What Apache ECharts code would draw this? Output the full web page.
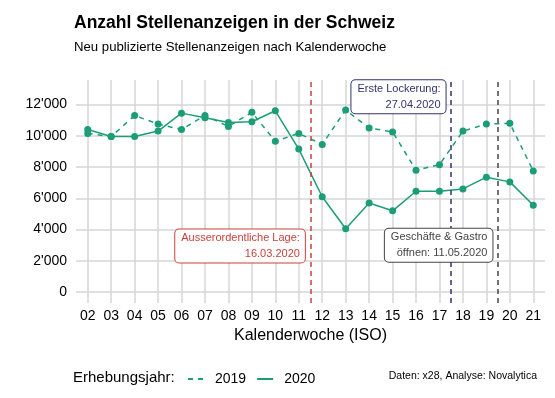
<!DOCTYPE html>
<html>
<head>
<meta charset="utf-8">
<script src="https://cdn.jsdelivr.net/npm/echarts@6/dist/echarts.min.js"></script>
<style>
  html, body { margin: 0; padding: 0; background: #fff; }
  #chart { width: 555px; height: 398px; }
</style>
</head>
<body>
<div id="chart"></div>
<script>
var weeks = ['02','03','04','05','06','07','08','09','10','11','12','13','14','15','16','17','18','19','20','21'];
var v2019 = [10150, 9950, 11300, 10750, 10400, 11300, 10600, 11500, 9650, 10150, 9450, 11650, 10500, 10250, 7800, 8150, 10300, 10750, 10800, 7750];
var v2020 = [10400, 9950, 9950, 10300, 11450, 11150, 10850, 10900, 11600, 9150, 6100, 4050, 5700, 5200, 6450, 6450, 6600, 7350, 7050, 5550];
var yTicks = [0, 2000, 4000, 6000, 8000, 10000, 12000];

// events: position between weeks, label text, colour
var events = [
  { x: 11.5, color: '#c8413a', text: 'Ausserordentliche Lage:\n16.03.2020', at: [11.26, 2950] },
  { x: 17.5, color: '#33336e', text: 'Erste Lockerung:\n27.04.2020', at: [17.26, 12500] },
  { x: 19.5, color: '#444444', text: 'Geschäfte & Gastro\nöffnen: 11.05.2020', at: [19.26, 3000] }
];

var font = 'Liberation Sans, Arial, sans-serif';
var green = '#1b9e77';
var weekNums = weeks.map(function (w) { return parseInt(w, 10); });

function pairs(vals) {
  return vals.map(function (v, i) { return [weekNums[i], v]; });
}
function fmt(v) {
  return String(v).replace(/\B(?=(\d{3})+(?!\d))/g, "'");
}

var chart = echarts.init(document.getElementById('chart'));
chart.setOption({
  backgroundColor: '#fff',
  textStyle: { fontFamily: font },
  animation: false,
  title: [
    { text: 'Anzahl Stellenanzeigen in der Schweiz', left: 74, top: 14, padding: 0,
      textStyle: { fontFamily: font, fontSize: 17.5, fontWeight: 'bold', color: '#000' } },
    { text: 'Neu publizierte Stellenanzeigen nach Kalenderwoche', left: 74, top: 41, padding: 0,
      textStyle: { fontFamily: font, fontSize: 13.2, fontWeight: 'normal', color: '#000' } }
  ],
  grid: { left: 76, right: 10, top: 80, bottom: 95 },
  xAxis: {
    type: 'value', min: 1.5, max: 21.5,
    name: 'Kalenderwoche (ISO)', nameLocation: 'middle', nameGap: 23,
    nameTextStyle: { fontFamily: font, fontSize: 16, color: '#000' },
    axisLine: { show: false },
    axisTick: { show: false, customValues: weekNums },
    axisLabel: { customValues: weekNums, fontSize: 14, color: '#000', margin: 6,
      formatter: function (v) { return (v < 10 ? '0' : '') + v; } },
    splitLine: { show: true, lineStyle: { color: '#d6d6d6', width: 1.5 } }
  },
  yAxis: {
    type: 'value', min: -700, max: 13570,
    axisLine: { show: false },
    axisTick: { show: false, customValues: yTicks },
    axisLabel: { customValues: yTicks, fontSize: 14, color: '#000', margin: 9, formatter: fmt },
    splitLine: { show: true, lineStyle: { color: '#d6d6d6', width: 1.5 } }
  },
  legend: {
    left: 182, top: 367, itemWidth: 16, itemHeight: 10, itemGap: 10,
    textStyle: { fontFamily: font, fontSize: 14, color: '#000', padding: [0, 0, 0, 6] },
    itemStyle: { opacity: 0 },
    data: ['2019', '2020']
  },
  graphic: [
    { type: 'text', left: 73, top: 370,
      style: { text: 'Erhebungsjahr:', font: '15px ' + font, fill: '#000' } },
    { type: 'text', right: 18, top: 371,
      style: { text: 'Daten: x28, Analyse: Novalytica', font: '10.5px ' + font, fill: '#000' } }
  ],
  series: [
    {
      name: '2019', type: 'line', data: pairs(v2019),
      symbol: 'circle', symbolSize: 7,
      lineStyle: { color: green, width: 1.5, type: [5, 5] },
      itemStyle: { color: green },
      z: 3
    },
    {
      name: '2020', type: 'line', data: pairs(v2020),
      symbol: 'circle', symbolSize: 7,
      lineStyle: { color: green, width: 1.5 },
      itemStyle: { color: green },
      z: 3,
      markLine: {
        silent: true, symbol: 'none', label: { show: false },
        data: events.map(function (e) {
          return { xAxis: e.x, lineStyle: { color: e.color, width: 1.5, type: [5, 4] } };
        })
      },
      markPoint: {
        silent: true, symbol: 'circle', symbolSize: 0,
        data: events.map(function (e) {
          return {
            coord: e.at,
            label: {
              show: true, position: 'left', distance: 0, align: 'right',
              formatter: e.text, color: e.color, fontFamily: font, fontSize: 11, lineHeight: 16,
              backgroundColor: '#fff', borderColor: e.color, borderWidth: 1, borderRadius: 4,
              padding: [1, 5, 0, 6]
            }
          };
        })
      }
    }
  ]
});
</script>
</body>
</html>
